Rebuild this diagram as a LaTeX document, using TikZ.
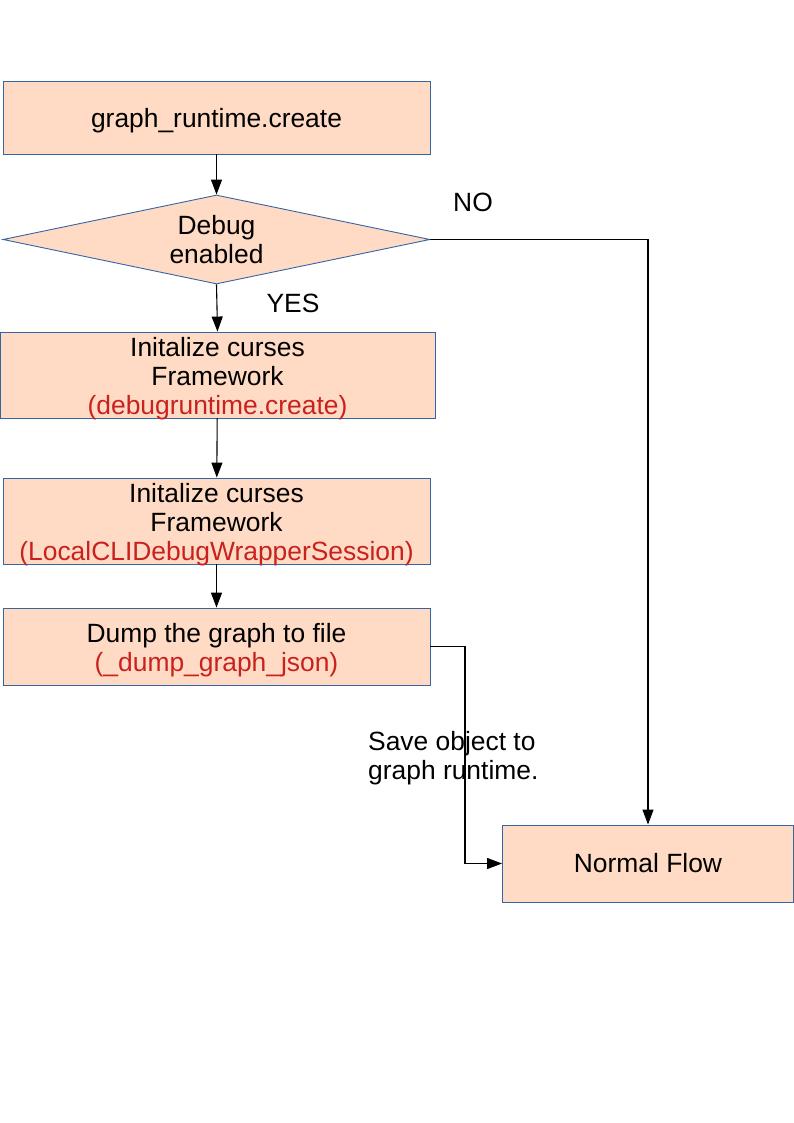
\documentclass[tikz,border=0pt]{standalone}
\usepackage{fontspec}
\setmainfont{Liberation Sans}
\usetikzlibrary{shapes.geometric,arrows.meta}
\definecolor{peach}{RGB}{255,219,197}
\definecolor{bluebd}{RGB}{52,101,164}
\definecolor{redtxt}{RGB}{201,33,30}
\newcommand{\toppad}{\rule{0pt}{26pt}}
\begin{document}
\begin{tikzpicture}[x=1pt,y=-1pt,
  box/.style={draw=bluebd, fill=peach, line width=0.9pt, align=center, inner xsep=0pt, inner ysep=-4pt, font=\fontsize{26.4}{29}\selectfont},
  arr/.style={draw=black, line width=1.1pt, -{Triangle[length=15pt,width=11pt]}},
  lbl/.style={font=\fontsize{26.4}{29}\selectfont, inner sep=0pt, align=left}]
\useasboundingbox (0,0) rectangle (794,1123);
\fill[white] (0,0) rectangle (794,1123);
\node[box, minimum width=427pt, minimum height=73pt] (b1) at (216.5,117.5) {\toppad graph\_runtime.create};
\node[box, inner ysep=0pt, shape=diamond, aspect=4.8, minimum width=427pt, minimum height=89pt] (dec) at (216.5,239.5) {Debug\\enabled};
\node[box, minimum width=435pt, minimum height=86pt] (b2) at (217.5,375) {\toppad Initalize curses\\Framework\\{\color{redtxt}(debugruntime.create)}};
\node[box, minimum width=427pt, minimum height=86pt] (b3) at (216.5,521) {\toppad Initalize curses\\Framework\\{\color{redtxt}(LocalCLIDebugWrapperSession)}};
\node[box, minimum width=427pt, minimum height=77pt] (b4) at (216.5,646.5) {\toppad Dump the graph to file\\{\color{redtxt}(\_dump\_graph\_json)}};
\node[box, minimum width=291pt, minimum height=77pt] (nf) at (648,863.5) {Normal Flow};
\node[lbl] (no) at (473,202) {NO};
\node[lbl] (yes) at (293,303) {YES};
\node[lbl, anchor=west] (save) at (368,758.5) {Save object to\\graph runtime.};
\coordinate (k) at (465,0);
\draw[arr] (b1) -- (dec);
\draw[arr] (dec.south) -- (b2.north);
\draw[arr] (b2) -- (b3);
\draw[arr] (b3) -- (b4);
\draw[arr] (dec.east) -| (nf.north);
\draw[arr] (b4.east) -- (b4.east -| k) |- (nf.west);
\end{tikzpicture}
\end{document}
